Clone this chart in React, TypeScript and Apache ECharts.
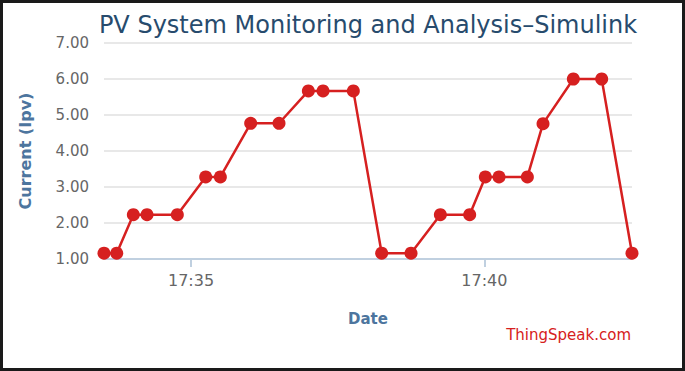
import React, { useEffect, useRef } from "react";
import * as echarts from "echarts";

const times = [
  "17:33:31", "17:33:44", "17:34:01", "17:34:15", "17:34:46", "17:35:15", "17:35:30",
  "17:36:01", "17:36:30", "17:37:00", "17:37:15", "17:37:46", "17:38:15", "17:38:45",
  "17:39:15", "17:39:45", "17:40:01", "17:40:15", "17:40:44", "17:41:00", "17:41:31",
  "17:42:00", "17:42:31",
];
const currentIpv = [
  1.16, 1.16, 2.23, 2.23, 2.23, 3.28, 3.28,
  4.77, 4.77, 5.67, 5.67, 5.67, 1.16, 1.16,
  2.23, 2.23, 3.28, 3.28, 3.28, 4.76, 6.0,
  6.0, 1.16,
];
const xTickLabels = ["17:35", "17:40"];
const yMin = 1;
const yMax = 7;

const toSec = (s: string) => {
  const p = s.split(":").map(Number);
  return p[0] * 3600 + p[1] * 60 + (p[2] || 0);
};
const pad = (n: number) => (n < 10 ? "0" + n : "" + n);
const fmt = (v: number) => `${pad(Math.floor(v / 3600))}:${pad(Math.floor((v % 3600) / 60))}`;

const FONT = "DejaVu Sans";

export default function App() {
  const ref = useRef<HTMLDivElement>(null);
  useEffect(() => {
    if (!ref.current) return;
    const chart = echarts.init(ref.current, undefined, { renderer: "svg" });
    const xs = times.map(toSec);
    const tickVals = xTickLabels.map(toSec);
    chart.setOption({
      animation: false,
      backgroundColor: "#ffffff",
      textStyle: { fontFamily: FONT },
      title: {
        text: "PV System Monitoring and Analysis–Simulink",
        left: 368,
        textAlign: "center",
        top: 13,
        padding: 0,
        textStyle: { fontFamily: FONT, fontSize: 24, fontWeight: "normal", color: "#274b6d" },
      },
      grid: { left: 104, right: 53, top: 43, bottom: 112, outerBoundsMode: "none" },
      xAxis: {
        type: "value",
        min: xs[0],
        max: xs[xs.length - 1],
        name: "Date",
        nameLocation: "middle",
        nameGap: 52,
        nameTextStyle: { fontFamily: FONT, fontSize: 15, fontWeight: "bold", color: "#4d759e" },
        axisLine: { show: true, lineStyle: { color: "#c0d0e0", width: 2 } },
        axisTick: { show: true, customValues: tickVals, length: 8, lineStyle: { color: "#c0d0e0", width: 2 } },
        axisLabel: {
          customValues: tickVals,
          formatter: (v: number) => fmt(v),
          fontFamily: FONT,
          fontSize: 16,
          color: "#666666",
          margin: 13,
        },
        splitLine: { show: false },
      },
      yAxis: {
        type: "value",
        min: yMin,
        max: yMax,
        interval: 1,
        name: "Current (Ipv)",
        nameLocation: "middle",
        nameGap: 71,
        nameTextStyle: { fontFamily: FONT, fontSize: 16, fontWeight: "bold", color: "#4d759e" },
        axisLine: { show: false },
        axisTick: { show: false },
        axisLabel: {
          formatter: (v: number) => v.toFixed(2),
          fontFamily: FONT,
          fontSize: 15,
          color: "#666666",
          margin: 15,
        },
        splitLine: { show: true, lineStyle: { color: "#e0e0e0", width: 1.5 } },
      },
      graphic: [
        {
          type: "text",
          right: 54,
          top: 327,
          style: { text: "ThingSpeak.com", font: `15px "${FONT}"`, fill: "#d62020" },
        },
      ],
      series: [
        {
          type: "line",
          data: xs.map((x, i) => [x, currentIpv[i]]),
          symbol: "circle",
          symbolSize: 13,
          lineStyle: { color: "#d62020", width: 2.5 },
          itemStyle: { color: "#d62020" },
          clip: false,
        },
      ],
    });
    return () => chart.dispose();
  }, []);
  return (
    <div style={{ position: "fixed", left: 0, top: 0, width: 685, height: 371, background: "#fff" }}>
      <div ref={ref} style={{ position: "absolute", left: 0, top: 0, width: 685, height: 371 }} />
      <div
        style={{
          position: "absolute",
          left: 0,
          top: 0,
          width: 685,
          height: 371,
          boxSizing: "border-box",
          border: "3px solid #1a1a1a",
          pointerEvents: "none",
        }}
      />
    </div>
  );
}
